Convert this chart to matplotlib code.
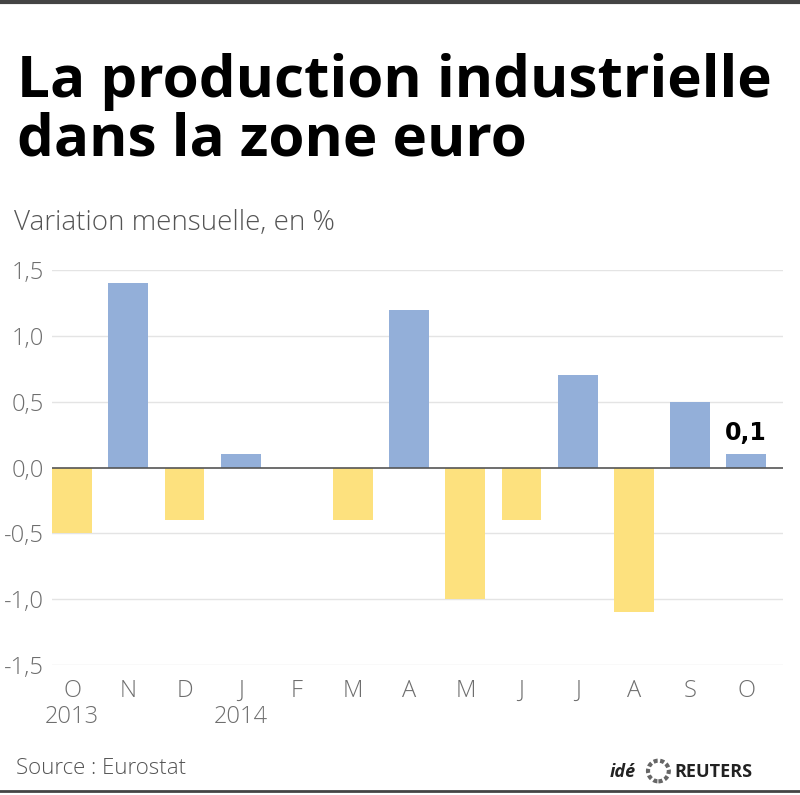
import matplotlib
matplotlib.use("Agg")
import matplotlib.pyplot as plt
import matplotlib.transforms as mtrans
from matplotlib.lines import Line2D
import numpy as np

months = ["O", "N", "D", "J", "F", "M", "A", "M", "J", "J", "A", "S", "O"]
years = ["2013", "", "", "2014", "", "", "", "", "", "", "", "", ""]
values = [-0.5, 1.4, -0.4, 0.1, 0.0, -0.4, 1.2, -1.0, -0.4, 0.7, -1.1, 0.5, 0.1]
yticks = [-1.5, -1.0, -0.5, 0.0, 0.5, 1.0, 1.5]
ytick_labels = ["-1,5", "-1,0", "-0,5", "0,0", "0,5", "1,0", "1,5"]

BLUE = "#93afd9"
YELLOW = "#fde17e"
GRAY = "#6e6e6e"

fig = plt.figure(figsize=(8, 7.95), dpi=100)
ax = fig.add_axes([0.065, 1 - 665 / 795, 0.979 - 0.065, (665 - 270) / 795])

x = np.arange(len(values))
colors = [BLUE if v >= 0 else YELLOW for v in values]
ax.bar(x, values, width=0.71, color=colors, zorder=3)
ax.axhline(0, color="#555555", lw=1.2, zorder=4)

ax.set_ylim(-1.5, 1.5)
ax.set_xlim(-0.36, 12.66)
ax.set_yticks(yticks)
ax.set_yticklabels(ytick_labels)
for yv in yticks:
    if yv != 0:
        ax.axhline(yv, color="#e4e4e4", lw=1.0, zorder=1)

labels = [m + ("\n" + y if y else "\n") for m, y in zip(months, years)]
ax.set_xticks(x)
ax.set_xticklabels(labels, linespacing=1.12)
off = mtrans.ScaledTranslation(8 / 100, 0, fig.dpi_scale_trans)
for lab in ax.get_xticklabels():
    lab.set_transform(lab.get_transform() + off)

for s in ax.spines.values():
    s.set_visible(False)
ax.tick_params(axis="both", length=0, labelsize=17, colors=GRAY)
ax.tick_params(axis="y", pad=6)
ax.tick_params(axis="x", pad=10)
for lab in ax.get_xticklabels() + ax.get_yticklabels():
    lab.set_fontfamily("Open Sans")
    lab.set_fontweight("light")

ax.text(x[-1], values[-1] + 0.07, "0,1", ha="center", va="bottom",
        fontsize=17, fontweight="bold", color="black", family="DejaVu Sans")

fig.text(0.021, 1 - 97 / 795, "La production industrielle", fontsize=42,
         fontweight="bold", family="Open Sans", va="baseline", color="black")
fig.text(0.021, 1 - 155 / 795, "dans la zone euro", fontsize=42,
         fontweight="bold", family="Open Sans", va="baseline", color="black")
fig.text(0.018, 1 - 223 / 795, "Variation mensuelle, en %", fontsize=20,
         family="Open Sans", fontweight="light", color="#555555", va="center")
fig.text(0.02, 1 - 768 / 795, "Source : Eurostat", fontsize=16,
         family="Open Sans", fontweight="light", color="#555555", va="center")

fig.text(0.762, 1 - 772 / 795, "idé", fontsize=13, fontweight="bold",
         style="italic", family="Open Sans", color="#222222", va="center")
fig.patches.append(plt.Circle((0.823, 1 - 771 / 795), 0.013, transform=fig.transFigure,
                              facecolor="none", edgecolor="#666666", lw=3, linestyle=(0, (1, 0.6))))
fig.text(0.843, 1 - 772 / 795, "REUTERS", fontsize=13, fontweight="bold",
         family="Open Sans", color="#222222", va="center")

fig.add_artist(Line2D([0, 1], [1 - 2 / 795, 1 - 2 / 795], transform=fig.transFigure,
                      color="#444444", lw=3))
fig.add_artist(Line2D([0, 1], [1 - 791 / 795, 1 - 791 / 795], transform=fig.transFigure,
                      color="#444444", lw=2))

fig.savefig("out.png", dpi=100, facecolor="white")
